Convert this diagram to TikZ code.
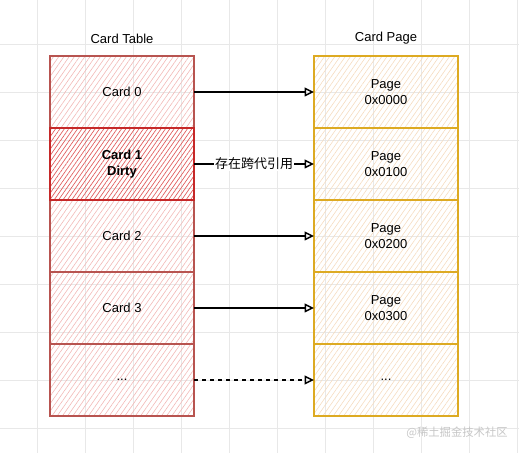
\documentclass[tikz,border=0pt]{standalone}
\usepackage{fontspec}
\setmainfont{Liberation Sans}
\newfontfamily\cjk{Noto Sans CJK SC}
\usepackage{tikz}
\usetikzlibrary{positioning, arrows.meta, patterns.meta}
\definecolor{cardline}{HTML}{B85450}
\definecolor{cardhatch}{HTML}{F2B8B6}
\definecolor{dirtyline}{HTML}{C62828}
\definecolor{dirtyhatch}{HTML}{E05A5A}
\definecolor{pageline}{HTML}{DDAA22}
\definecolor{pagehatch}{HTML}{F5DCC0}

\begin{document}
\begin{tikzpicture}[
  x=0.75pt, y=-0.75pt,
  font=\fontsize{9.75}{12}\selectfont,
  gridline/.style={draw=gray!18, line width=0.5pt},
  cardbox/.style={rectangle, draw=cardline, line width=1.5pt, minimum width=108pt, minimum height=54pt, inner sep=0pt, outer sep=0pt, align=center,
    preaction={pattern={Lines[angle=55, distance=3.2pt, line width=0.45pt]}, pattern color=cardhatch}},
  dirtybox/.style={rectangle, draw=dirtyline, line width=1.5pt, minimum width=108pt, minimum height=54pt, inner sep=0pt, outer sep=0pt, align=center, font=\fontsize{9.75}{12}\selectfont\bfseries,
    preaction={pattern={Lines[angle=55, distance=2.7pt, line width=0.5pt]}, pattern color=dirtyhatch}},
  pagebox/.style={rectangle, draw=pageline, line width=1.5pt, minimum width=108pt, minimum height=54pt, inner sep=0pt, outer sep=0pt, align=center,
    preaction={pattern={Lines[angle=55, distance=3.2pt, line width=0.45pt]}, pattern color=pagehatch}},
  link/.style={draw=black, line width=1.1pt, -{Triangle[open, length=7pt, width=6.5pt]}},
  title/.style={inner sep=0pt},
  node distance=0pt]
\useasboundingbox (0,0) rectangle (519,453);
% background grid
\foreach \gx in {37.5,85.5,...,517.5} \draw[gridline] (\gx,0) -- (\gx,453);
\foreach \gy in {44,92,...,428} \draw[gridline] (0,\gy) -- (519,\gy);
% card table
\node[cardbox] (card0) at (122,92) {Card 0};
\node[cardbox, below=of card0, yshift=-54pt] (card2) {Card 2};
\node[cardbox, below=of card2] (card3) {Card 3};
\node[cardbox, below=of card3] (card4) {...};
\node[dirtybox, below=of card0] (card1) {Card 1\\Dirty};
\node[title, above=9pt of card0] (tabletitle) {Card Table};
% card page
\node[pagebox] (page0) at (386,92) {Page\\0x0000};
\node[pagebox, below=of page0] (page1) {Page\\0x0100};
\node[pagebox, below=of page1] (page2) {Page\\0x0200};
\node[pagebox, below=of page2] (page3) {Page\\0x0300};
\node[pagebox, below=of page3] (page4) {...};
\node[title, above=9pt of page0] (pagetitle) {Card Page};
% links
\draw[link] (card0) -- (page0);
\draw[link] (card1) -- node[midway, fill=white, inner sep=1pt, font=\fontsize{9.75}{12}\selectfont\cjk] (reflabel) {存在跨代引用} (page1);
\draw[link] (card2) -- (page2);
\draw[link] (card3) -- (page3);
\draw[link, dashed] (card4) -- (page4);
% watermark
\node[text=gray!45, font=\fontsize{8.5}{10}\selectfont\cjk] (mark) at (457,433) {@稀土掘金技术社区};
\end{tikzpicture}
\end{document}
